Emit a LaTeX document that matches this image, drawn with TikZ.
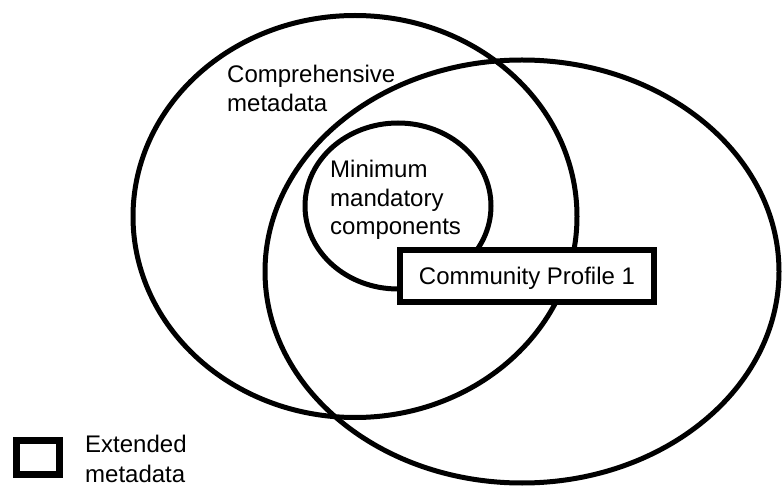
\documentclass[tikz,border=0pt]{standalone}
\usepackage{fontspec}
\setmainfont{Liberation Sans}
\begin{document}
\begin{tikzpicture}[x=1pt,y=-1pt,
  ring/.style={draw=black,line width=5pt},
  lbl/.style={anchor=base west,inner sep=0pt,font=\fontsize{24}{29}\selectfont},
  profilebox/.style={draw=black,fill=white,line width=6pt,minimum width=254pt,minimum height=52pt,inner sep=0pt,text depth=0pt,font=\fontsize{24}{29}\selectfont},
  legendbox/.style={draw=black,fill=white,line width=7pt,minimum width=43pt,minimum height=34pt,inner sep=0pt}]
\useasboundingbox (0,0) rectangle (782,486);
\fill[white] (0,0) rectangle (782,486);
% ellipses
\draw[ring] (355,216.5) ellipse [x radius=222pt, y radius=201pt];
\draw[ring] (522,271.5) ellipse [x radius=257pt, y radius=211.5pt];
\draw[ring] (398,206) ellipse [x radius=93pt, y radius=83pt];
% box
\node[profilebox] (cp) at (527,276) {Community Profile 1};
% labels
\node[lbl] (c1) at (227,83) {Comprehensive};
\node[lbl] (c2) at (227,112) {metadata};
\node[lbl] (m1) at (330,178) {Minimum};
\node[lbl] (m2) at (330,207) {mandatory};
\node[lbl] (m3) at (330,235) {components};
% legend
\node[legendbox] (lg) at (38,457.5) {};
\node[lbl] (e1) at (85,452) {Extended};
\node[lbl] (e2) at (85,482) {metadata};
\end{tikzpicture}
\end{document}
